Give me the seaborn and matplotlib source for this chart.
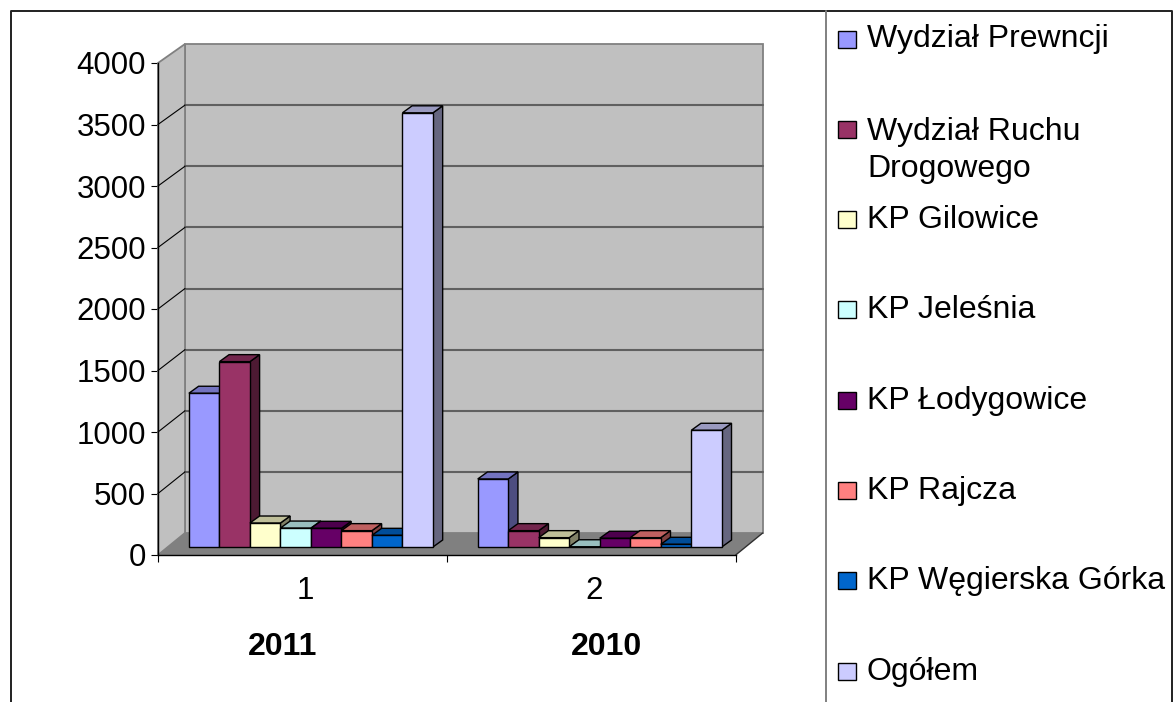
import pandas as pd
import seaborn as sns
import matplotlib.pyplot as plt
from matplotlib.lines import Line2D
from matplotlib.patches import Polygon, Rectangle
from matplotlib.colors import to_rgb

# -----------------------------
# Dane
# -----------------------------
kategorie = ['1', '2']
lata = ['2011', '2010']
serie = ['Wydział Prewncji', 'Wydział Ruchu\nDrogowego', 'KP Gilowice', 'KP Jeleśnia',
         'KP Łodygowice', 'KP Rajcza', 'KP Węgierska Górka', 'Ogółem']
wartosci_1 = [1250, 1507, 195, 154, 152, 133, 95, 3530]
wartosci_2 = [553, 133, 76, 2, 71, 76, 22, 949]
kolory = ['#9999FF', '#993366', '#FFFFCC', '#CCFFFF', '#660066', '#FF8080', '#0066CC', '#CCCCFF']
y_ticks = [0, 500, 1000, 1500, 2000, 2500, 3000, 3500, 4000]

df = pd.DataFrame({
    'kategoria': kategorie[0:1] * len(serie) + kategorie[1:2] * len(serie),
    'seria': serie * 2,
    'wartosc': wartosci_1 + wartosci_2,
})

# -----------------------------
# Figura i osie (w pikselach obrazka)
# -----------------------------
W, H = 1173, 702
sns.set_style("white")
plt.rcParams['font.family'] = ['Liberation Sans', 'DejaVu Sans']
fig = plt.figure(figsize=(W / 100, H / 100), dpi=100)
ax = fig.add_axes([158 / W, (H - 555) / H, 577.7 / W, 492 / H])
ax.patch.set_visible(False)

sns.barplot(data=df, x='kategoria', y='wartosc', hue='seria', hue_order=serie,
            palette=dict(zip(serie, kolory)), saturation=1, width=0.845,
            edgecolor='black', linewidth=1.0, legend=False, ax=ax)
ax.set_xlim(-0.5, 1.5)
ax.set_ylim(0, 4000)
ax.set_xlabel('')
ax.set_ylabel('')

# ile pikseli na jednostke danych
px_x = 577.7 / 2
px_y = 492 / 4000


def tylna(x, v):
    # punkt na tylnej scianie wykresu
    return x + 27 / px_x, v * 489 / 492 + 22 / px_y


# -----------------------------
# Sciany i podloga
# -----------------------------
x0, x1 = -0.5, 1.5
gora = y_ticks[-1]
ax.add_patch(Polygon([tylna(x0, 0), tylna(x1, 0), tylna(x1, gora), tylna(x0, gora)],
                     fc='#C0C0C0', ec='#808080', lw=1.3, clip_on=False, zorder=0.5))
ax.add_patch(Polygon([(x0, 0), tylna(x0, 0), tylna(x0, gora), (x0, gora)],
                     fc='#C0C0C0', ec='#808080', lw=1.3, clip_on=False, zorder=0.6))
ax.add_patch(Polygon([(x0, 0), (x1, 0), tylna(x1, 0), tylna(x0, 0)],
                     fc='#808080', ec='none', clip_on=False, zorder=0.7))
ax.plot(*zip((x1, 0), tylna(x1, 0)), color='#303030', lw=1.0, clip_on=False, zorder=0.8)

for t in y_ticks[1:-1]:
    ax.plot(*zip(tylna(x0, t), tylna(x1, t)), color='#606060', lw=1.5, clip_on=False, zorder=0.8)
    ax.plot(*zip((x0, t), tylna(x0, t)), color='black', lw=0.8, clip_on=False, zorder=0.8)

# -----------------------------
# Slupki 3D: przednia sciana z seaborna, bok i gora dorysowane
# -----------------------------
przes_x = 8.5 / px_x
przes_y = 8 / px_y
gl_x = 9.7 / px_x
gl_y = 7 / px_y

for i, kontener in enumerate(ax.containers):
    kolor = to_rgb(kolory[i])
    ciemny = tuple(c * 0.5 for c in kolor)
    sredni = tuple(c * 0.75 for c in kolor)
    for p in kontener:
        p.set_x(p.get_x() + przes_x)
        p.set_y(przes_y)
        p.set_clip_on(False)
        p.set_zorder(3 + i)
        xa, xb = p.get_x(), p.get_x() + p.get_width()
        ya, yb = przes_y, przes_y + p.get_height()
        ax.add_patch(Polygon([(xb, ya), (xb, yb), (xb + gl_x, yb + gl_y), (xb + gl_x, ya + gl_y)],
                             fc=ciemny, ec='black', lw=1.0, clip_on=False, zorder=2.9 + i))
        ax.add_patch(Polygon([(xa, yb), (xb, yb), (xb + gl_x, yb + gl_y), (xa + gl_x, yb + gl_y)],
                             fc=sredni, ec='black', lw=1.0, clip_on=False, zorder=2.9 + i))

# -----------------------------
# Osie
# -----------------------------
ax.set_yticks(y_ticks)
ax.set_xticks([-0.5, 0.5, 1.5], labels=['', '', ''])
ax.set_xticks([0.01, 1.01], labels=kategorie, minor=True)
ax.tick_params(axis='y', which='major', left=True, length=5, width=0.8, labelsize=22.5, pad=3.5,
               color='black', labelcolor='black')
ax.tick_params(axis='x', which='major', bottom=True, length=5, width=0.8, color='black')
ax.tick_params(axis='x', which='minor', bottom=True, length=0, labelsize=22.5, pad=15, labelcolor='black')
sns.despine(ax=ax, top=True, right=True)
for s in ['left', 'bottom']:
    ax.spines[s].set_color('black')
    ax.spines[s].set_linewidth(1.0)

for rok, xp in zip(lata, [283, 606]):
    fig.text(xp / W, 1 - 647 / H, rok, fontsize=23, fontweight='bold', ha='center', va='center', color='black')

# -----------------------------
# Legenda i ramka
# -----------------------------
for i, (nazwa, kolor) in enumerate(zip(serie, kolory)):
    yc = 39 + 90.3 * i
    fig.add_artist(Rectangle((838 / W, 1 - (yc + 8.5) / H), 17.5 / W, 17 / H, transform=fig.transFigure,
                             fc=kolor, ec='black', lw=1.0))
    # przy va='baseline' liczy sie ostatnia linia tekstu
    linia = yc + 8.5 + 39.7 * nazwa.count('\n')
    fig.text(867 / W, 1 - linia / H, nazwa, fontsize=23, ha='left', va='baseline',
             linespacing=1.32, color='black')

fig.add_artist(Line2D([11 / W, 11 / W, 1171.5 / W, 1171.5 / W], [0, 1 - 11 / H, 1 - 11 / H, 0],
                      color='#202020', lw=1.4, transform=fig.transFigure))
fig.add_artist(Line2D([826 / W, 826 / W], [0, 1 - 11 / H], color='#808080', lw=1.4, transform=fig.transFigure))

fig.savefig('out.png', dpi=100)
